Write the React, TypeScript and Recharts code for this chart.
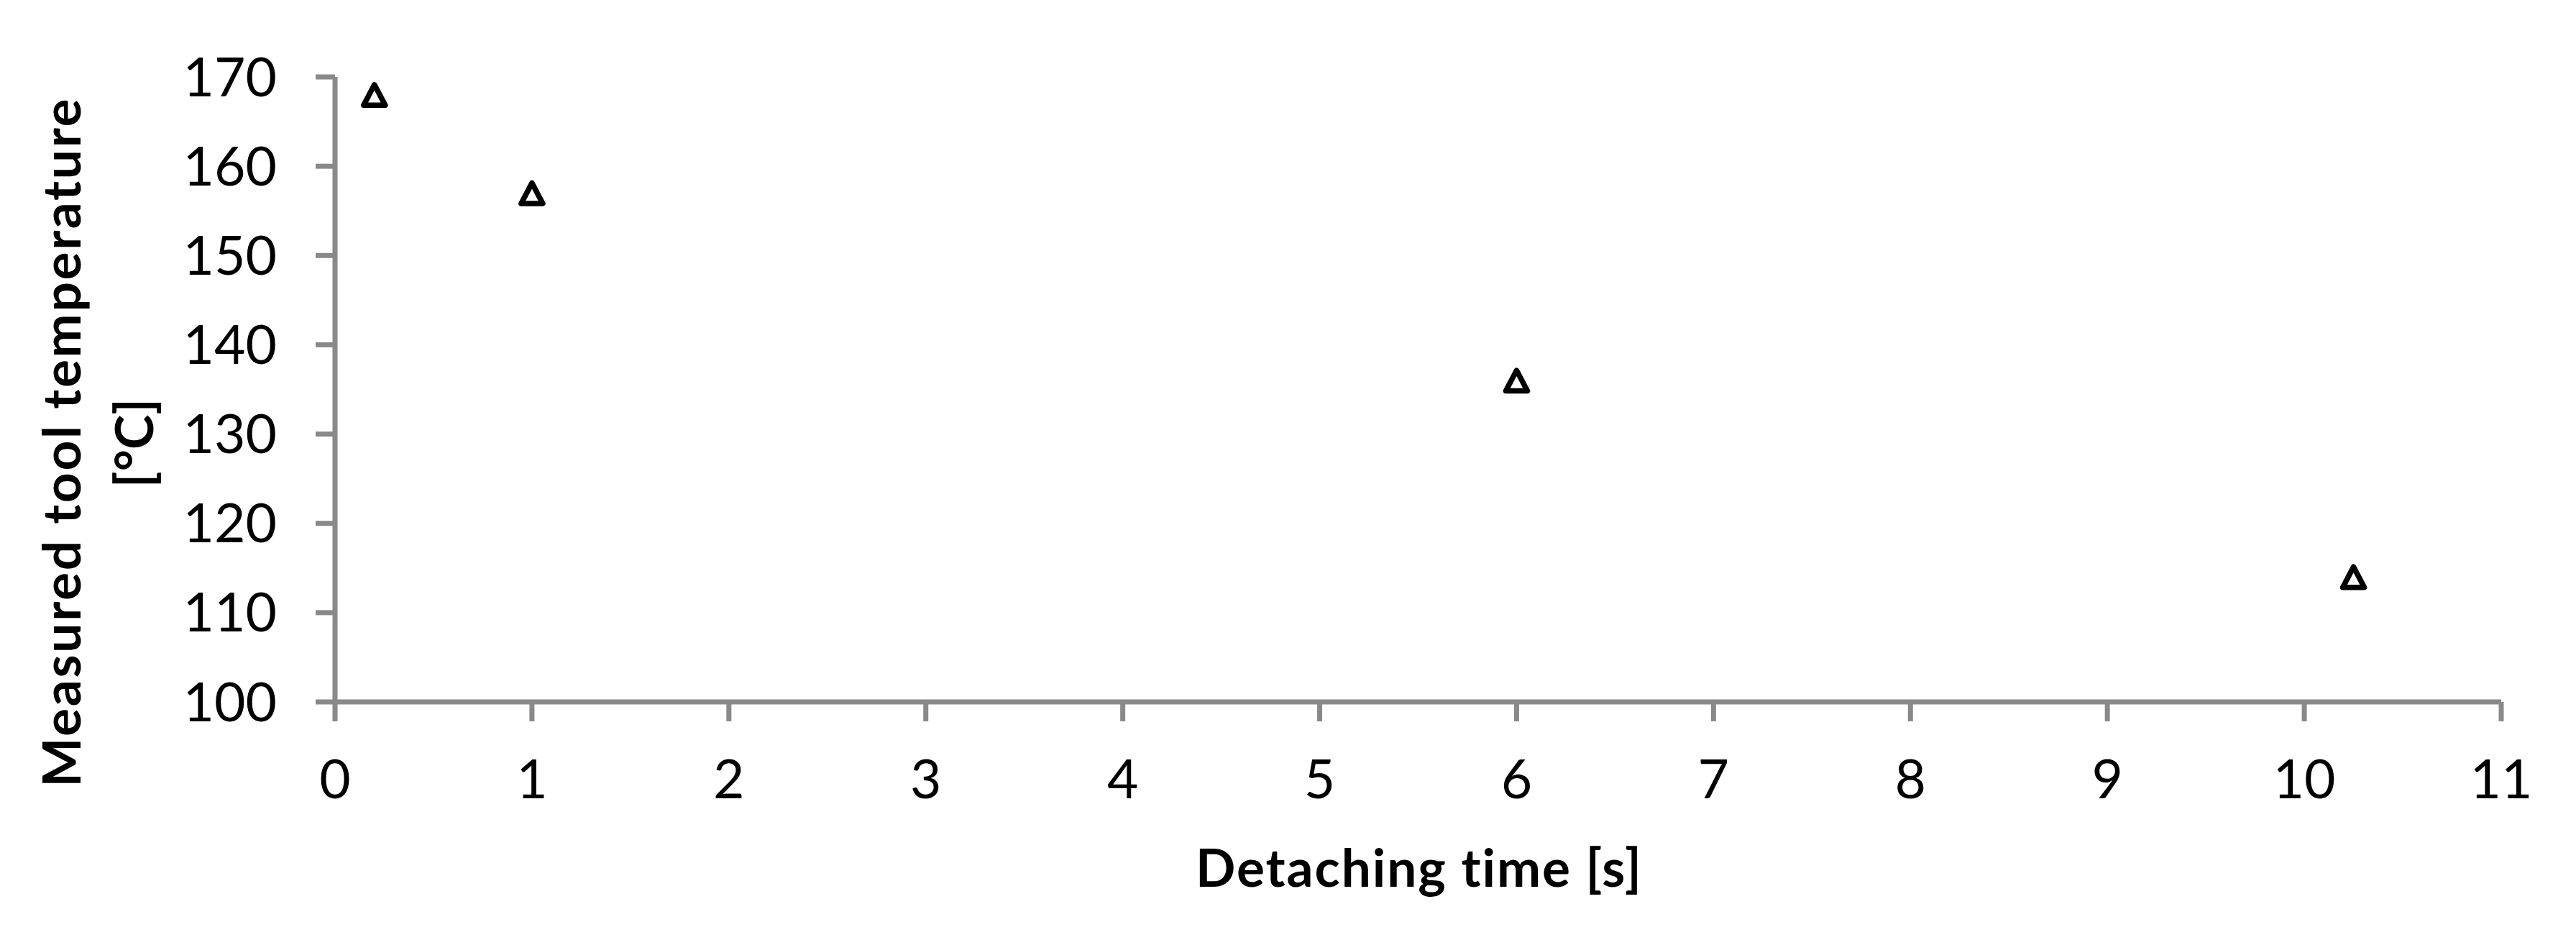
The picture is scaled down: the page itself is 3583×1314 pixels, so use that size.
import { ScatterChart, Scatter, XAxis, YAxis, Label } from "recharts";

const detachingTime = [0.2, 1, 6, 10.25];
const toolTemperature = [168, 157, 136, 114];
const xTicks = [0, 1, 2, 3, 4, 5, 6, 7, 8, 9, 10, 11];
const yTicks = [100, 110, 120, 130, 140, 150, 160, 170];

const xTitle = "Detaching time [s]";
const yTitleLines = ["Measured tool temperature", "[°C]"];

const AXIS = "#898989";
const FONT = "Lato, 'Open Sans', sans-serif";
const noLigatures = { fontVariantLigatures: "none" as const };

const data = detachingTime.map((t, i) => ({ x: t, y: toolTemperature[i] }));

// open triangle marker like the Excel one
function Triangle(props: any) {
  const { cx, cy } = props;
  if (cx == null || cy == null) return null;
  const d = `M${cx},${cy - 14} L${cx + 15},${cy + 14.5} L${cx - 15},${cy + 14.5} Z`;
  return (
    <path d={d} fill="#fff" stroke="#000" strokeWidth={7.5} strokeLinejoin="round" />
  );
}

function XTitle() {
  return (
    <text
      x={1973}
      y={1233}
      textAnchor="middle"
      fontFamily={FONT}
      fontWeight={700}
      fontSize={73}
      textLength={620}
      lengthAdjust="spacing"
      fill="#000"
      style={noLigatures}
    >
      {xTitle}
    </text>
  );
}

function YTitle() {
  const baselines = [112, 213];
  return (
    <g>
      {yTitleLines.map((line, i) => (
        <text
          key={line}
          x={baselines[i]}
          y={616}
          transform={`rotate(-90, ${baselines[i]}, 616)`}
          textAnchor="middle"
          fontFamily={FONT}
          fontWeight={700}
          fontSize={73}
          textLength={i === 0 ? 957 : undefined}
          lengthAdjust="spacing"
          fill="#000"
          style={noLigatures}
        >
          {line}
        </text>
      ))}
    </g>
  );
}

export default function App() {
  return (
    <div style={{ position: "absolute", left: 0, top: 0, background: "#fff" }}>
      <ScatterChart
        width={3583}
        height={1314}
        margin={{ top: 107, right: 104, bottom: 0, left: 0 }}
      >
        <XAxis
          dataKey="x"
          type="number"
          domain={[0, 11]}
          ticks={xTicks}
          interval={0}
          height={338}
          tickSize={27}
          tickMargin={54}
          axisLine={{ stroke: AXIS, strokeWidth: 7 }}
          tickLine={{ stroke: AXIS, strokeWidth: 7 }}
          tick={{ fill: "#000", fontSize: 75, fontFamily: FONT }}
        >
          <Label content={<XTitle />} />
        </XAxis>
        <YAxis
          dataKey="y"
          type="number"
          domain={[100, 170]}
          ticks={yTicks}
          interval={0}
          width={466}
          tickSize={27}
          tickMargin={54}
          axisLine={{ stroke: AXIS, strokeWidth: 7 }}
          tickLine={{ stroke: AXIS, strokeWidth: 7 }}
          tick={{ fill: "#000", fontSize: 75, fontFamily: FONT }}
        >
          <Label content={<YTitle />} />
        </YAxis>
        <Scatter data={data} shape={<Triangle />} isAnimationActive={false} />
      </ScatterChart>
    </div>
  );
}
